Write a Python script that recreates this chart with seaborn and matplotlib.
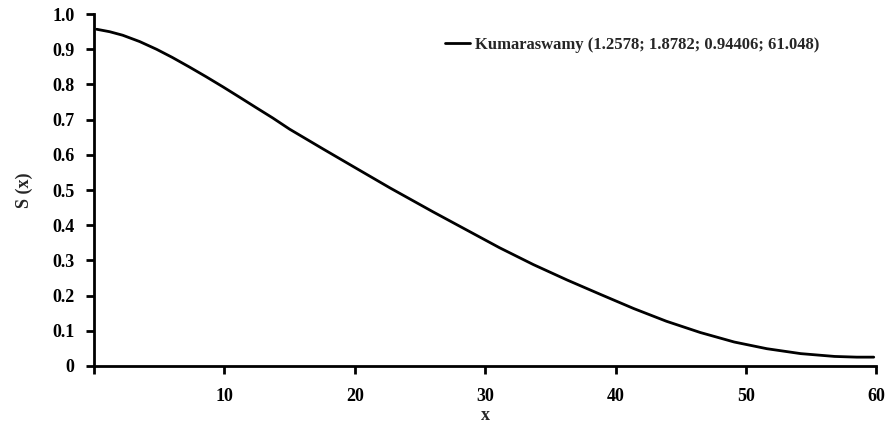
import matplotlib
matplotlib.use("Agg")
import matplotlib.pyplot as plt
import seaborn as sns
import pandas as pd

# values
x_vals = [0.2, 1.2, 2.2, 3.5, 4.8, 6.0, 7.3, 8.6, 9.9, 11.2, 12.4, 13.7, 15.0,
          17.6, 20.1, 22.7, 26.0, 28.5, 31.1, 33.7, 36.3, 38.8, 41.4, 43.9,
          46.5, 49.1, 51.6, 54.2, 56.8, 58.5, 59.8]
s_vals = [0.957, 0.950, 0.940, 0.922, 0.900, 0.877, 0.850, 0.822, 0.793, 0.763,
          0.735, 0.705, 0.673, 0.616, 0.562, 0.506, 0.438, 0.388, 0.336, 0.288,
          0.244, 0.204, 0.163, 0.127, 0.095, 0.068, 0.049, 0.035, 0.027, 0.025,
          0.025]
label = "Kumaraswamy (1.2578; 1.8782; 0.94406; 61.048)"
x_ticks = [0, 10, 20, 30, 40, 50, 60]
x_ticklabels = ["", "10", "20", "30", "40", "50", "60"]
y_ticks = [0, 0.1, 0.2, 0.3, 0.4, 0.5, 0.6, 0.7, 0.8, 0.9, 1.0]
y_ticklabels = ["0", "0.1", "0.2", "0.3", "0.4", "0.5", "0.6", "0.7", "0.8", "0.9", "1.0"]

df = pd.DataFrame({"x": x_vals, "S": s_vals, "model": label})

sns.set_style("ticks")
plt.rcParams["font.family"] = ["Liberation Serif", "DejaVu Serif"]
plt.rcParams["font.weight"] = "bold"

fig = plt.figure(figsize=(8.87, 4.28), dpi=100)
ax = fig.add_axes([0.106, 0.145, 0.882, 0.822])

sns.lineplot(data=df, x="x", y="S", hue="model", palette=["black"],
             linewidth=2, ax=ax)

ax.set_xlim(0, 60)
ax.set_ylim(0, 1.0)
ax.set_xticks(x_ticks)
ax.set_xticklabels(x_ticklabels)
ax.set_yticks(y_ticks)
ax.set_yticklabels(y_ticklabels)
ax.tick_params(axis="both", direction="out", length=6, width=2, labelsize=13,
               colors="black")
ax.tick_params(axis="x", pad=10)
ax.tick_params(axis="y", pad=8)
for lab in ax.get_xticklabels() + ax.get_yticklabels():
    lab.set_fontweight("bold")

sns.despine(ax=ax)
for side in ["left", "bottom"]:
    ax.spines[side].set_linewidth(2)
    ax.spines[side].set_color("black")

ax.set_xlabel("x", fontsize=13, fontweight="bold", labelpad=1)
ax.set_ylabel("S (x)", fontsize=13, fontweight="bold", labelpad=14)

leg = ax.legend(loc="center left", frameon=False, fontsize=12,
                handlelength=1.5, handletextpad=0.3, borderpad=0,
                borderaxespad=0, bbox_to_anchor=(0.449, 0.912))
for t in leg.get_texts():
    t.set_fontweight("bold")

fig.savefig("out.png", dpi=100)
